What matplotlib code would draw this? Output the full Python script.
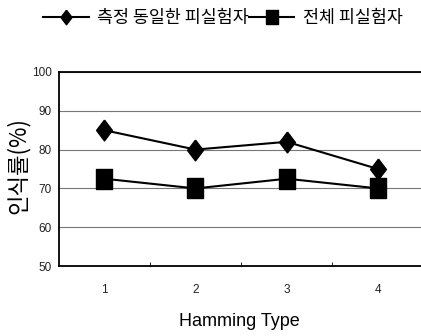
import matplotlib
matplotlib.use("Agg")
import matplotlib.pyplot as plt
from matplotlib.path import Path

plt.rcParams['font.family'] = ['Noto Sans CJK KR', 'DejaVu Sans']

# data
hamming_types = [1, 2, 3, 4]
same_subjects = [85, 80, 82, 75]      # 측정 동일한 피실험자
all_subjects = [72.5, 70, 72.5, 70]   # 전체 피실험자
series_names = ['측정 동일한 피실험자', '전체 피실험자']
y_ticks = [50, 60, 70, 80, 90, 100]

# tall markers (the scan is stretched vertically)
diamond = Path([(0, 0.5), (0.38, 0), (0, -0.5), (-0.38, 0), (0, 0.5)])
square = Path([(-0.38, -0.5), (0.38, -0.5), (0.38, 0.5), (-0.38, 0.5), (-0.38, -0.5)])

fig = plt.figure(figsize=(4.21, 3.36), dpi=100)
ax = fig.add_axes([0.139, 0.208, 0.861, 0.578])

l1, = ax.plot(hamming_types, same_subjects, color='black', lw=1.5,
              marker=diamond, markersize=15, zorder=3)
l2, = ax.plot(hamming_types, all_subjects, color='black', lw=1.5,
              marker=square, markersize=15, zorder=3)

ax.set_xlim(0.5, 4.47)
ax.set_ylim(50, 100)
ax.set_yticks(y_ticks)
ax.set_xticks(hamming_types)
ax.set_xticks([1.5, 2.5, 3.5], minor=True)
ax.tick_params(axis='x', which='major', length=0, pad=13)
ax.tick_params(axis='x', which='minor', direction='in', length=3, width=0.6)
ax.tick_params(axis='y', length=0, pad=5)
for lab in ax.get_xticklabels() + ax.get_yticklabels():
    lab.set_family(['Liberation Sans', 'DejaVu Sans'])
    lab.set_fontsize(8.5)
    lab.set_color('#222222')

ax.grid(axis='y', color='#777777', lw=0.8)
ax.set_axisbelow(True)
ax.spines['right'].set_visible(False)
for s in ['left', 'top', 'bottom']:
    ax.spines[s].set_linewidth(1.3)

ax.set_ylabel('인식률(%)', fontsize=16)
ax.yaxis.set_label_coords(-0.078, 0.52)
ax.set_xlabel('Hamming Type', fontsize=13, labelpad=12,
              family=['Liberation Sans', 'DejaVu Sans'])

fig.legend([l1, l2], series_names, loc='center', bbox_to_anchor=(0.53, 0.945),
           ncol=2, frameon=False, fontsize=12.5, handlelength=2.6,
           handletextpad=0.5, columnspacing=0.0, markerscale=0.7)

fig.savefig('out.png', dpi=100)
